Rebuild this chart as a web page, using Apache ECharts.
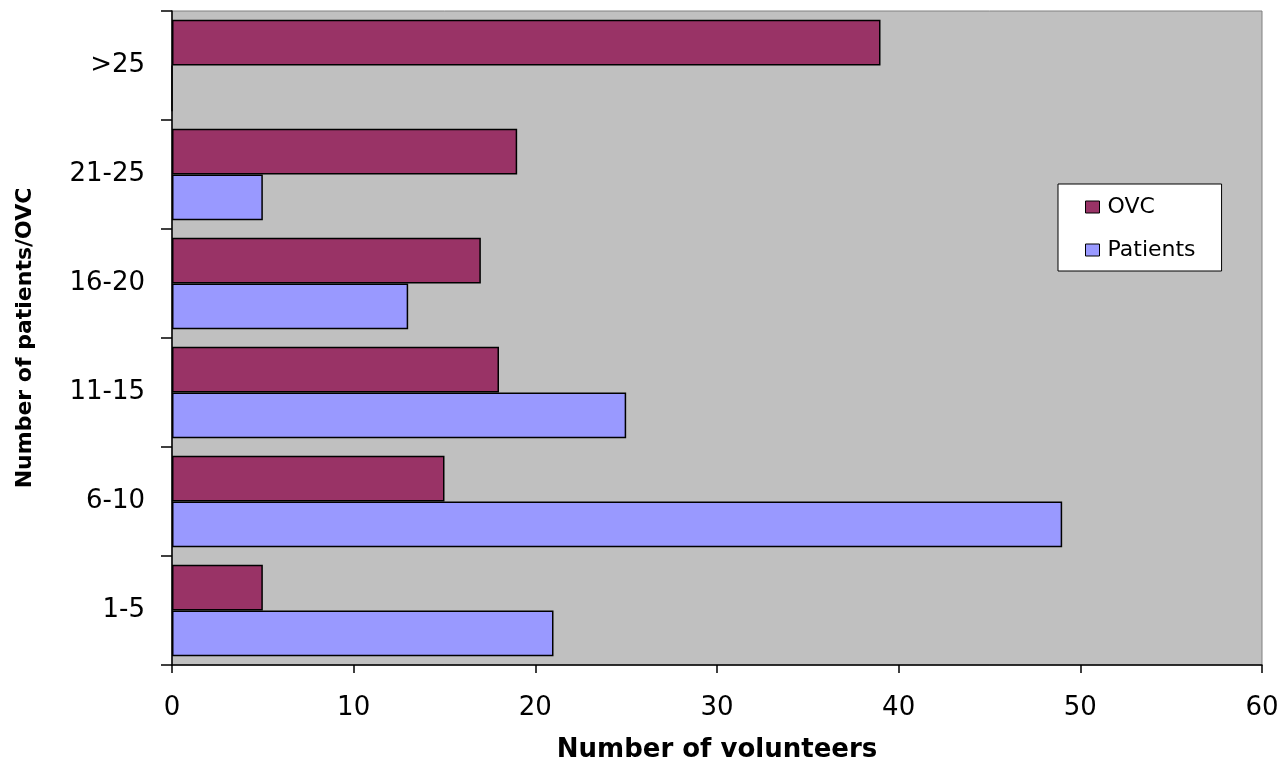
<!DOCTYPE html>
<html>
<head>
<meta charset="utf-8">
<script src="https://cdn.jsdelivr.net/npm/echarts@6/dist/echarts.min.js"></script>
<style>
html,body{margin:0;padding:0;background:#fff;}
#chart{width:1285px;height:761px;}
</style>
</head>
<body>
<div id="chart"></div>
<script>
// Data (categories listed bottom to top)
const categories = ['1-5', '6-10', '11-15', '16-20', '21-25', '>25'];
const ovcValues = [5, 15, 18, 17, 19, 39];
const patientValues = [21, 49, 25, 13, 5, 0];
const xTicks = [0, 10, 20, 30, 40, 50, 60];

const FONT = 'DejaVu Sans';
const chart = echarts.init(document.getElementById('chart'), null, {renderer: 'canvas'});
chart.setOption({
  backgroundColor: '#ffffff',
  animation: false,
  grid: {
    left: 172, right: 23, top: 11, bottom: 96,
    containLabel: false, outerBoundsMode: 'none',
    show: true, backgroundColor: '#C0C0C0', borderColor: '#808080', borderWidth: 1
  },
  legend: {
    data: ['OVC', 'Patients'],
    orient: 'vertical',
    left: 1058, top: 184,
    padding: [12, 26, 10, 27],
    itemWidth: 14, itemHeight: 12, itemGap: 21,
    backgroundColor: '#ffffff', borderColor: '#000000', borderWidth: 1,
    icon: 'rect',
    itemStyle: {borderColor: '#000000', borderWidth: 1},
    textStyle: {fontFamily: FONT, fontSize: 22, color: '#000', lineHeight: 22, padding: [0, 0, 0, 3]}
  },
  xAxis: {
    type: 'value',
    min: xTicks[0], max: xTicks[xTicks.length - 1], interval: 10,
    name: 'Number of volunteers',
    nameLocation: 'middle', nameGap: 72,
    nameTextStyle: {fontFamily: FONT, fontSize: 26, fontWeight: 'bold', color: '#000'},
    axisLine: {show: true, lineStyle: {color: '#000', width: 1.5}},
    axisTick: {show: true, length: 8, lineStyle: {color: '#000', width: 1.5}},
    axisLabel: {fontFamily: FONT, fontSize: 26, color: '#000', margin: 30},
    splitLine: {show: false}
  },
  yAxis: {
    type: 'category',
    data: categories,
    name: 'Number of patients/OVC',
    nameLocation: 'middle', nameGap: 136, nameRotate: 90,
    nameTextStyle: {fontFamily: FONT, fontSize: 22, fontWeight: 'bold', color: '#000'},
    axisLine: {show: true, lineStyle: {color: '#000', width: 1.5}},
    axisTick: {show: true, length: 11, lineStyle: {color: '#000', width: 1.5}},
    axisLabel: {fontFamily: FONT, fontSize: 26, color: '#000', margin: 27},
    splitLine: {show: false}
  },
  series: [
    {
      name: 'OVC', type: 'bar', data: ovcValues,
      barGap: '0%', barCategoryGap: '16%',
      itemStyle: {color: '#993366', borderColor: '#000', borderWidth: 1.5}
    },
    {
      name: 'Patients', type: 'bar', data: patientValues,
      barGap: '0%', barCategoryGap: '16%',
      itemStyle: {color: '#9999FF', borderColor: '#000', borderWidth: 1.5}
    }
  ]
});
</script>
</body>
</html>
